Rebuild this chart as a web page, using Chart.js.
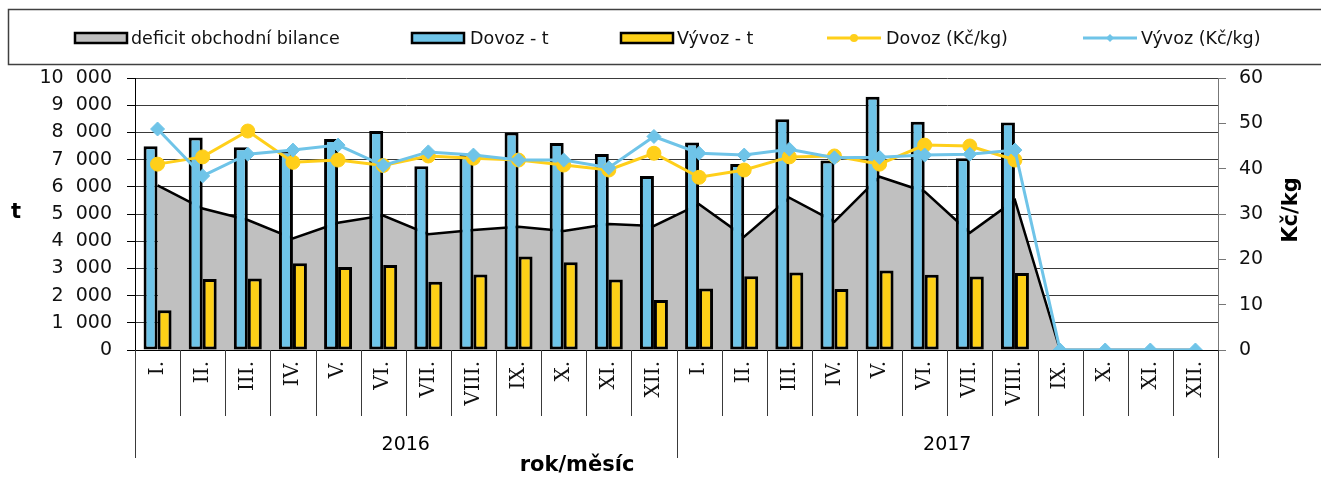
<!DOCTYPE html>
<html>
<head>
<meta charset="utf-8">
<script src="https://cdn.jsdelivr.net/npm/chart.js@4"></script>
<style>
html,body{margin:0;padding:0;background:#fff;}
#wrap{width:1321px;height:477px;position:relative;}
</style>
</head>
<body>
<div id="wrap"><canvas id="c"></canvas></div>
<script>
const months = ['I.','II.','III.','IV.','V.','VI.','VII.','VIII.','IX.','X.','XI.','XII.'];
const years = ['2016','2017'];
const categories = years.flatMap(() => months);

const deficit = [6050, 5200, 4780, 4100, 4680, 4940, 4260, 4410, 4530, 4375, 4630, 4560,
                 5360, 4170, 5600, 4720, 6370, 5820, 4310, 5510, 0, 0, 0, 0];
const dovozT  = [7490, 7810, 7450, 7330, 7760, 8050, 6760, 7210, 8000, 7610, 7210, 6400,
                 7630, 6840, 8480, 6970, 9310, 8390, 7050, 8360, null, null, null, null];
const vyvozT  = [1460, 2610, 2630, 3190, 3050, 3125, 2510, 2780, 3440, 3225, 2590, 1840,
                 2260, 2710, 2850, 2240, 2920, 2770, 2700, 2830, null, null, null, null];
const dovozKc = [41.0, 42.6, 48.3, 41.4, 41.9, 40.7, 42.8, 42.3, 41.9, 40.8, 39.7, 43.4,
                 38.1, 39.7, 42.6, 42.8, 41.0, 45.2, 45.0, 41.9, null, null, null, null];
const vyvozKc = [48.75, 38.4, 43.2, 44.1, 45.2, 40.7, 43.7, 43.0, 41.9, 41.9, 40.2, 47.1,
                 43.4, 43.0, 44.3, 42.4, 42.5, 43.0, 43.2, 44.1, 0, 0, 0, 0];
const leftTicks = [0, 10000, 1000];
const rightTicks = [0, 60, 10];

const C_GREY = '#C0C0C0', C_BLUE = '#6FC4E8', C_YEL = '#FDD017', C_LINEB = '#6FC4E8', C_LINEY = '#FFCF1A';
const FONT = 'DejaVu Sans';

function fmt(v){ return String(v).replace(/\B(?=(\d{3})+(?!\d))/g, '\u2007'); }

const decor = {
  id: 'decor',
  afterDraw(chart) {
    const ctx = chart.ctx;
    const xs = chart.scales.x;
    const area = chart.chartArea;
    const n = categories.length;
    ctx.save();
    // category separators
    ctx.strokeStyle = '#3a3a3a';
    ctx.lineWidth = 1;
    for (let i = 0; i <= n; i++) {
      let px;
      if (i === 0) px = xs.left;
      else if (i === n) px = xs.right;
      else px = (xs.getPixelForValue(i - 1) + xs.getPixelForValue(i)) / 2;
      px = Math.round(px) + 0.5;
      const long = (i % months.length === 0);
      ctx.beginPath();
      ctx.moveTo(px, area.bottom);
      ctx.lineTo(px, area.bottom + (long ? 108 : 66));
      ctx.stroke();
    }
    // year labels
    ctx.fillStyle = '#000';
    ctx.font = '19px "' + FONT + '"';
    ctx.textAlign = 'center';
    ctx.textBaseline = 'middle';
    years.forEach((y, k) => {
      const a = k * months.length, b = a + months.length - 1;
      const cx = (xs.getPixelForValue(a) + xs.getPixelForValue(b)) / 2;
      ctx.fillText(y, cx, area.bottom + 95);
    });
    // axis titles
    ctx.font = 'bold 21px "' + FONT + '"';
    ctx.fillText('t', 16, 213);
    ctx.fillText('rok/měsíc', 577, 466);
    ctx.save();
    ctx.translate(1292, 210);
    ctx.rotate(-Math.PI / 2);
    ctx.fillText('Kč/kg', 0, 0);
    ctx.restore();

    // legend frame
    ctx.strokeStyle = '#404040';
    ctx.lineWidth = 1.5;
    ctx.strokeRect(8.5, 9.5, 1330, 55);
    // legend items
    const ds = chart.data.datasets;
    const items = [
      {d: ds[3], kind: 'box', bx: 75, tx: 131},
      {d: ds[1], kind: 'box', bx: 412, tx: 470},
      {d: ds[2], kind: 'box', bx: 621, tx: 677},
      {d: ds[0], kind: 'line', bx: 827, tx: 886},
      {d: ds[4], kind: 'line', bx: 1083, tx: 1141},
    ];
    const cy = 38;
    ctx.font = '17.5px "' + FONT + '"';
    ctx.textAlign = 'left';
    items.forEach(it => {
      if (it.kind === 'box') {
        ctx.fillStyle = it.d.backgroundColor;
        ctx.fillRect(it.bx, cy - 5, 52, 10);
        ctx.strokeStyle = '#000';
        ctx.lineWidth = 2.5;
        ctx.strokeRect(it.bx, cy - 5, 52, 10);
      } else {
        ctx.strokeStyle = it.d.borderColor;
        ctx.lineWidth = 3;
        ctx.beginPath();
        ctx.moveTo(it.bx, cy); ctx.lineTo(it.bx + 54, cy);
        ctx.stroke();
        ctx.fillStyle = it.d.borderColor;
        const mx = it.bx + 27;
        ctx.beginPath();
        if (it.d.pointStyle === 'rectRot') {
          ctx.moveTo(mx - 4, cy); ctx.lineTo(mx, cy - 4); ctx.lineTo(mx + 4, cy); ctx.lineTo(mx, cy + 4);
          ctx.closePath();
        } else {
          ctx.arc(mx, cy, 4, 0, Math.PI * 2);
        }
        ctx.fill();
      }
      ctx.fillStyle = '#111';
      ctx.fillText(it.d.label, it.tx, cy + 1);
    });
    ctx.restore();
  }
};

new Chart(document.getElementById('c'), {
  data: {
    labels: categories,
    datasets: [
      {type: 'line', label: 'Dovoz (Kč/kg)', data: dovozKc, yAxisID: 'y1', order: 1,
       borderColor: C_LINEY, backgroundColor: C_LINEY, borderWidth: 3, pointRadius: 7,
       pointHoverRadius: 7, pointStyle: 'circle', pointBorderWidth: 1, tension: 0, spanGaps: false},
      {type: 'bar', label: 'Dovoz - t', data: dovozT, yAxisID: 'y', order: 2,
       backgroundColor: C_BLUE, borderColor: '#000', borderWidth: 3, borderSkipped: false,
       categoryPercentage: 0.62, barPercentage: 1.0},
      {type: 'bar', label: 'Vývoz - t', data: vyvozT, yAxisID: 'y', order: 2,
       backgroundColor: C_YEL, borderColor: '#000', borderWidth: 3, borderSkipped: false,
       categoryPercentage: 0.62, barPercentage: 1.0},
      {type: 'line', label: 'deficit obchodní bilance', data: deficit, yAxisID: 'y', order: 3,
       backgroundColor: C_GREY, borderColor: '#000', borderWidth: 2.5, fill: 'origin',
       pointRadius: 0, tension: 0},
      {type: 'line', label: 'Vývoz (Kč/kg)', data: vyvozKc, yAxisID: 'y1', order: 0,
       borderColor: C_LINEB, backgroundColor: C_LINEB, borderWidth: 3, pointRadius: 7,
       pointHoverRadius: 7, pointStyle: 'rectRot', pointBorderWidth: 1, tension: 0}
    ]
  },
  options: {
    responsive: true,
    maintainAspectRatio: false,
    animation: false,
    layout: {padding: {top: 78, left: 0, right: 0, bottom: 0}},
    plugins: {legend: {display: false}, tooltip: {enabled: false}},
    scales: {
      x: {
        type: 'category',
        offset: true,
        grid: {display: false, drawTicks: false},
        border: {display: true, color: '#000', width: 1},
        ticks: {
          autoSkip: false, minRotation: 90, maxRotation: 90, padding: 11,
          color: '#111', font: {family: 'DejaVu Serif', size: 20}
        },
        afterFit(s) { s.height = 127; }
      },
      y: {
        position: 'left',
        min: leftTicks[0], max: leftTicks[1],
        ticks: {stepSize: leftTicks[2], padding: 15, color: '#111',
                font: {family: FONT, size: 19}, callback: v => fmt(v)},
        grid: {color: '#3a3a3a', lineWidth: 1, tickLength: 8, tickColor: '#000'},
        border: {display: true, color: '#000', width: 1},
        afterFit(s) { s.width = 135; }
      },
      y1: {
        position: 'right',
        min: rightTicks[0], max: rightTicks[1],
        ticks: {stepSize: rightTicks[2], padding: 13, color: '#111',
                font: {family: FONT, size: 19}},
        grid: {drawOnChartArea: false, tickLength: 8, tickColor: '#777'},
        border: {display: true, color: '#777', width: 1},
        afterFit(s) { s.width = 103; }
      }
    }
  },
  plugins: [decor]
});
</script>
</body>
</html>
